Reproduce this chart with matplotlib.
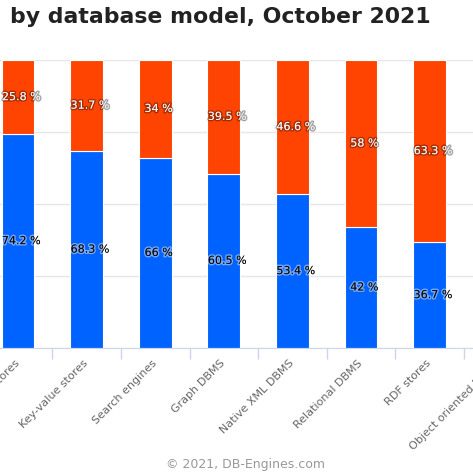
import numpy as np
import matplotlib.pyplot as plt
import matplotlib.patheffects as pe

categories = ['Document stores', 'Key-value stores', 'Search engines', 'Graph DBMS',
              'Native XML DBMS', 'Relational DBMS', 'RDF stores', 'Object oriented DBMS']
open_source = [74.2, 68.3, 66, 60.5, 53.4, 42, 36.7]
commercial = [25.8, 31.7, 34, 39.5, 46.6, 58, 63.3]

blue = '#0063ff'
orange = '#ff4300'

fig = plt.figure(figsize=(4.73, 4.77), dpi=100)
W, H = 473, 477
# plot area runs past the left and right edges (the chart is cropped)
left_px, right_px, top_px, bot_px = -16.3, 532.5, 61, 349
ax = fig.add_axes([left_px / W, (H - bot_px) / H, (right_px - left_px) / W, (bot_px - top_px) / H])

x = np.arange(len(open_source))
ax.bar(x, open_source, width=0.48, color=blue, edgecolor='white', linewidth=0.8, zorder=3)
ax.bar(x, commercial, bottom=open_source, width=0.48, color=orange, edgecolor='white',
       linewidth=0.8, zorder=3)

ax.set_xlim(-0.5, 7.5)
ax.set_ylim(0, 100)
ax.set_yticks([0, 25, 50, 75, 100])
ax.yaxis.grid(True, color='#e6e6e6', linewidth=1, zorder=0)
ax.tick_params(axis='y', left=False, labelleft=False)
for s in ['left', 'right', 'top']:
    ax.spines[s].set_visible(False)
ax.spines['bottom'].set_color('#ccd6eb')
ax.spines['bottom'].set_zorder(4)

ax.set_xticks(np.arange(len(categories)))
ax.set_xticklabels(categories, rotation=45, ha='right', va='center', rotation_mode='anchor',
                   color='#666666', fontsize=8)
ax.tick_params(axis='x', which='major', length=0, pad=9)
ax.set_xticks(np.arange(len(categories)) + 0.5, minor=True)
ax.tick_params(axis='x', which='minor', length=8, color='#ccd6eb', width=1)

for i in range(len(open_source)):
    ax.text(x[i] + 0.05, open_source[i] / 2, f'{open_source[i]:g} %', ha='center', va='center',
            fontsize=8, color='black', zorder=5,
            path_effects=[pe.withStroke(linewidth=2, foreground=(1, 1, 1, 0.45))])
    ax.text(x[i] + 0.05, open_source[i] + commercial[i] / 2, f'{commercial[i]:g} %', ha='center',
            va='center', fontsize=8, color='white', zorder=5,
            path_effects=[pe.withStroke(linewidth=2, foreground=(0, 0, 0, 0.35))])

fig.text(10 / W, 1 - 17 / H, 'by database model, October 2021', fontsize=15.8, fontweight='bold',
         color='#222222', va='center', ha='left')
fig.text(245 / W, 1 - 465 / H, '\u00a9 2021, DB-Engines.com', fontsize=9, color='#999999',
         ha='center', va='center')

plt.savefig('out.png', dpi=100)
